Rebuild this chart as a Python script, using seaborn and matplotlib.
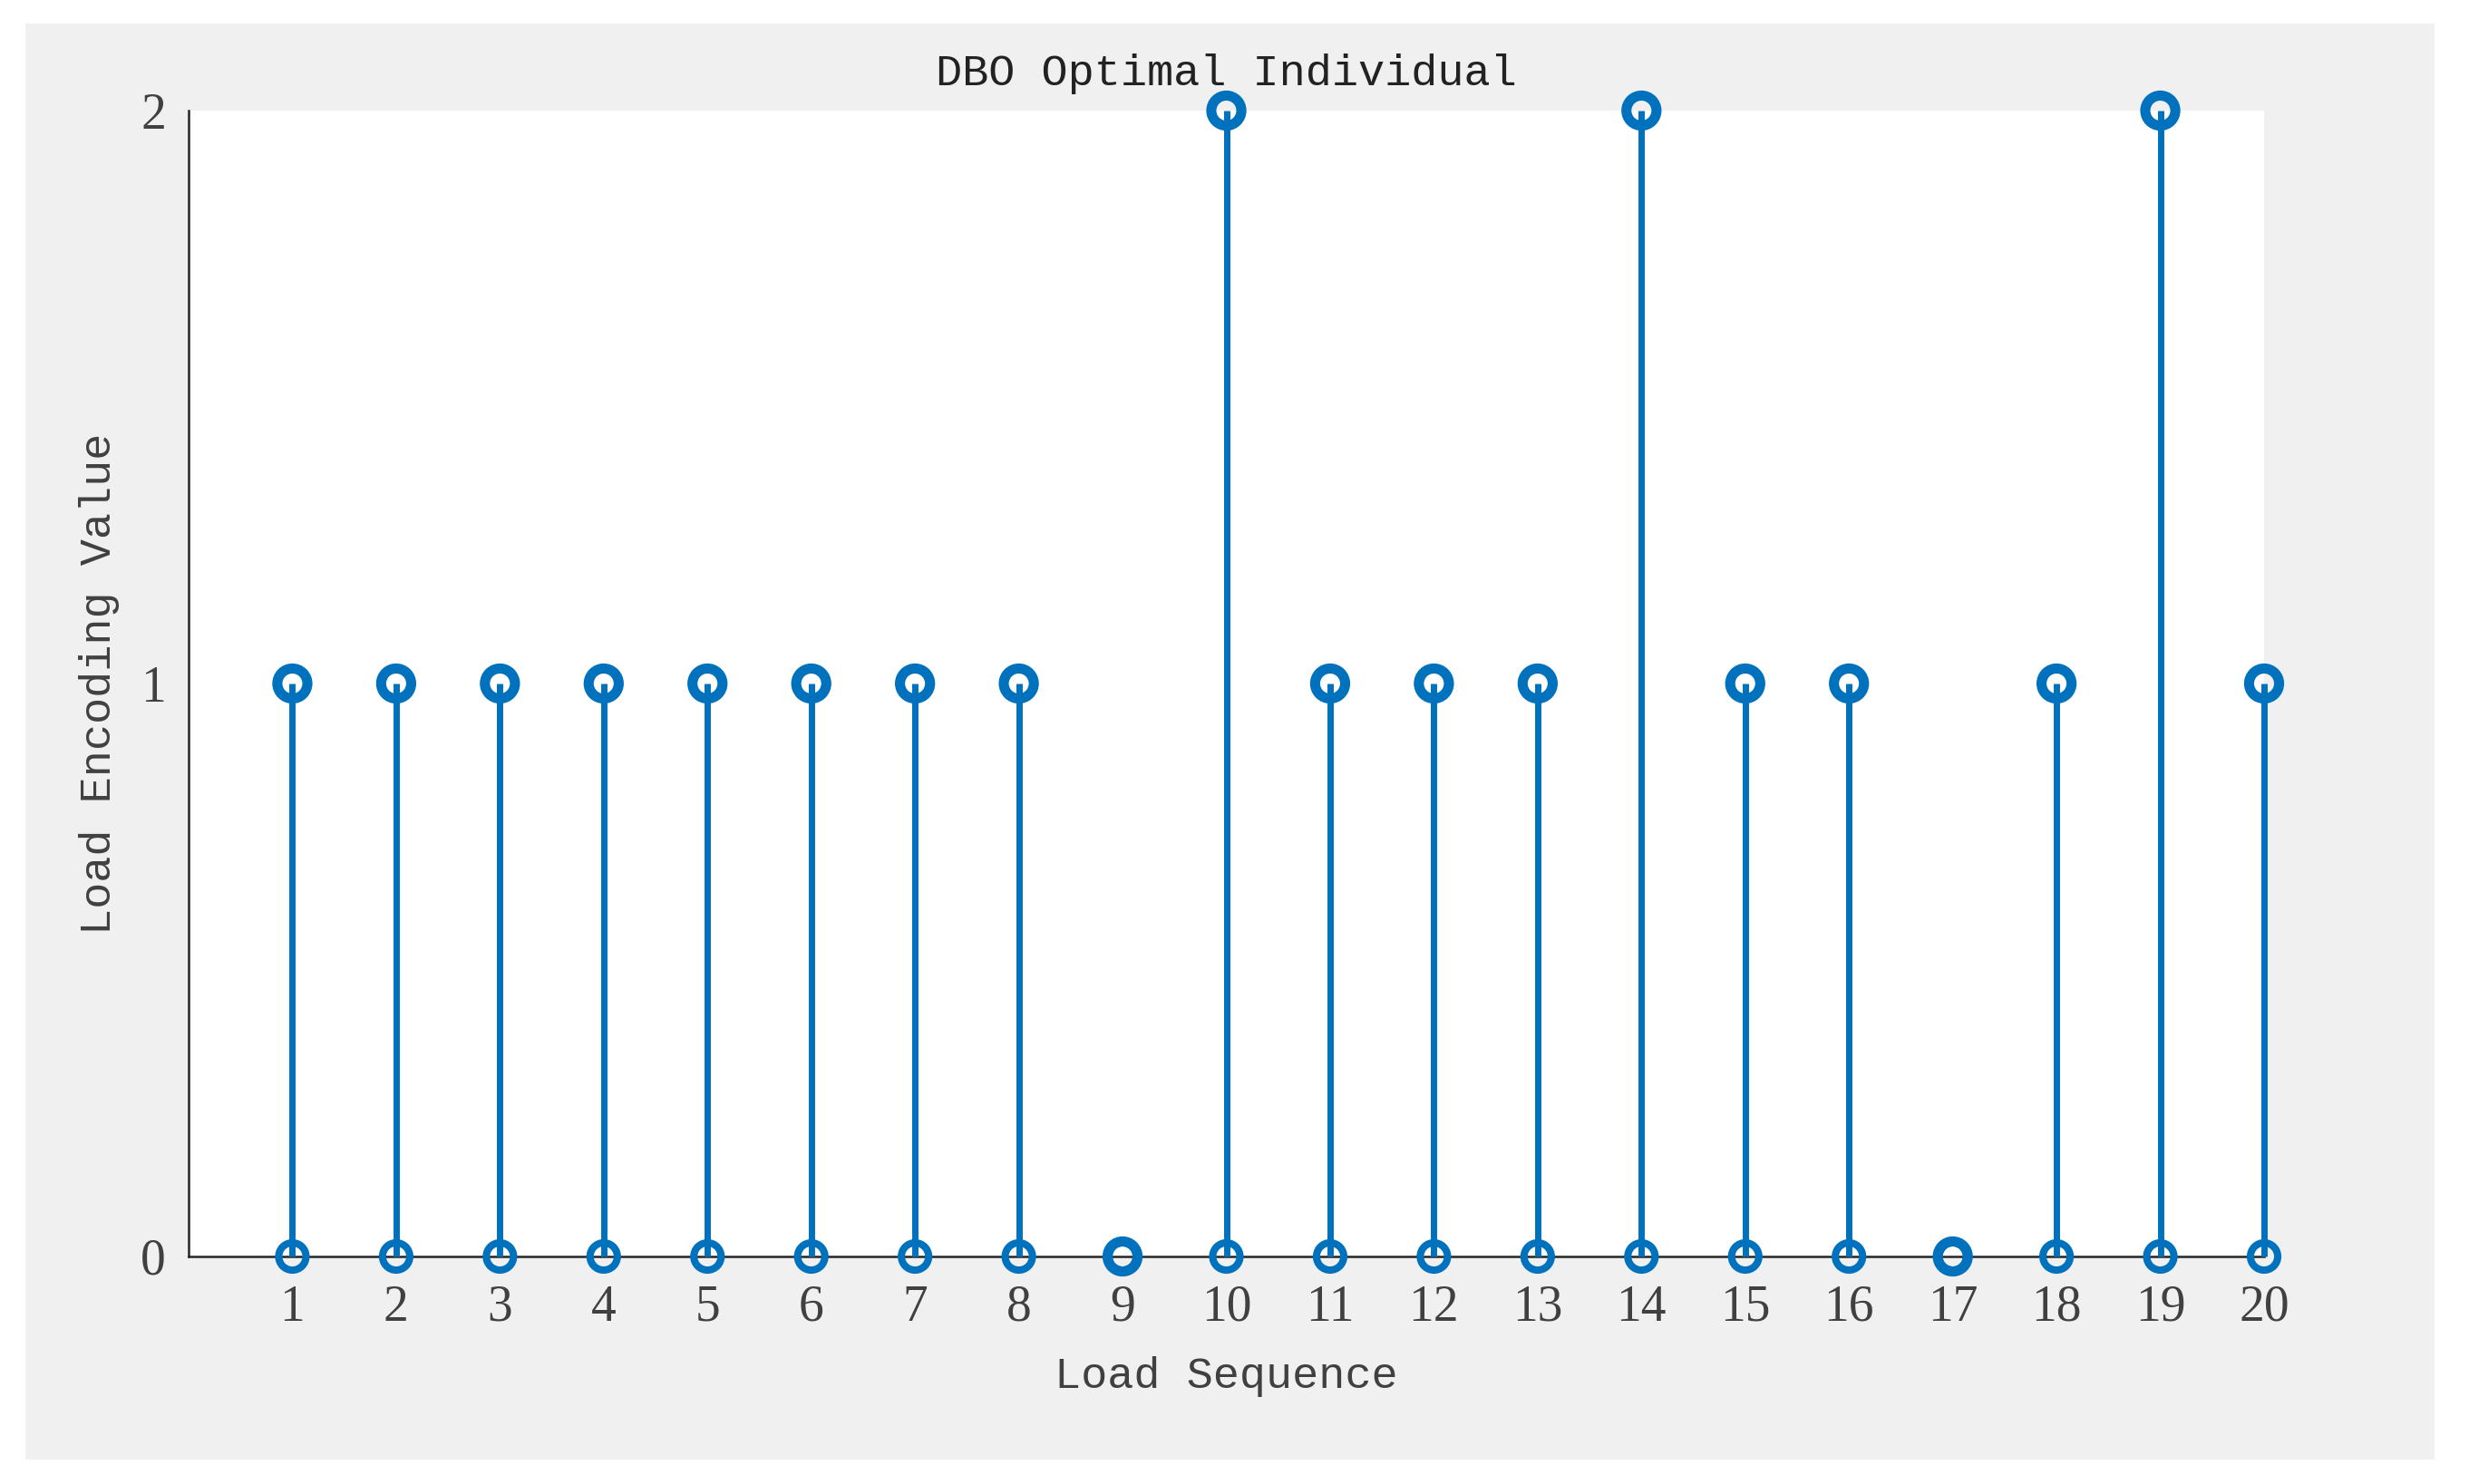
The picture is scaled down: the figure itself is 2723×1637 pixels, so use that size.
import matplotlib
matplotlib.use("Agg")
import matplotlib.pyplot as plt
import seaborn as sns
import numpy as np
from matplotlib.patches import Rectangle

# ---- data ----
load_sequence = list(range(1, 21))
encoding_values = [1, 1, 1, 1, 1, 1, 1, 1, 0, 2, 1, 1, 1, 2, 1, 1, 0, 1, 2, 1]
baseline_values = [0] * 20
x_ticks = list(range(1, 21))
y_ticks = [0, 1, 2]
title = "DBO Optimal Individual"
x_label = "Load Sequence"
y_label = "Load Encoding Value"

sns.set_theme(style="white")
plt.rcParams["font.family"] = ["Liberation Serif", "DejaVu Serif"]

W, H = 2723, 1637
fig = plt.figure(figsize=(W / 100, H / 100), dpi=100)
fig.patch.set_facecolor("white")
fig.patches.append(Rectangle((28 / W, 1 - 1610 / H), (2685 - 28) / W, (1610 - 26) / H,
                             transform=fig.transFigure, facecolor="#f0f0f0",
                             edgecolor="none", zorder=-10))

ax = fig.add_axes([208 / W, 1 - 1386 / H, (2497 - 208) / W, (1386 - 122) / H])
ax.set_facecolor("white")

c = "#0072BD"
ax.vlines(load_sequence, 0, encoding_values, color=c, linewidth=5, zorder=3, clip_on=False)
sns.scatterplot(x=load_sequence, y=baseline_values, ax=ax, s=470, marker="o",
                facecolors="none", edgecolor=c, linewidth=5.8, clip_on=False, zorder=4)
sns.scatterplot(x=load_sequence, y=encoding_values, ax=ax, s=570, marker="o",
                facecolors="none", edgecolor=c, linewidth=8, clip_on=False, zorder=5)

ax.set_xlim(0, 20)
ax.set_ylim(0, 2)
ax.set_xticks(x_ticks)
ax.set_xticklabels([str(t) for t in x_ticks])
ax.set_yticks(y_ticks)
ax.set_yticklabels([str(t) for t in y_ticks])

for s in ["top", "right"]:
    ax.spines[s].set_visible(False)
for s in ["left", "bottom"]:
    ax.spines[s].set_color("#262626")
    ax.spines[s].set_linewidth(1.8)

ax.tick_params(axis="both", direction="in", length=8, width=1.5, color="#262626",
               labelsize=40, labelcolor="#404040", pad=22)
ax.tick_params(axis="y", pad=18)

ax.set_title(title, family=["Liberation Mono", "DejaVu Sans Mono"], fontsize=35,
             color="#222222", pad=20)
ax.set_xlabel(x_label, family=["Liberation Mono", "DejaVu Sans Mono"], fontsize=35,
              color="#404040", labelpad=20)
ax.set_ylabel(y_label, family=["Liberation Mono", "DejaVu Sans Mono"], fontsize=35,
              color="#404040", labelpad=17)

fig.savefig("out.png", dpi=100)
